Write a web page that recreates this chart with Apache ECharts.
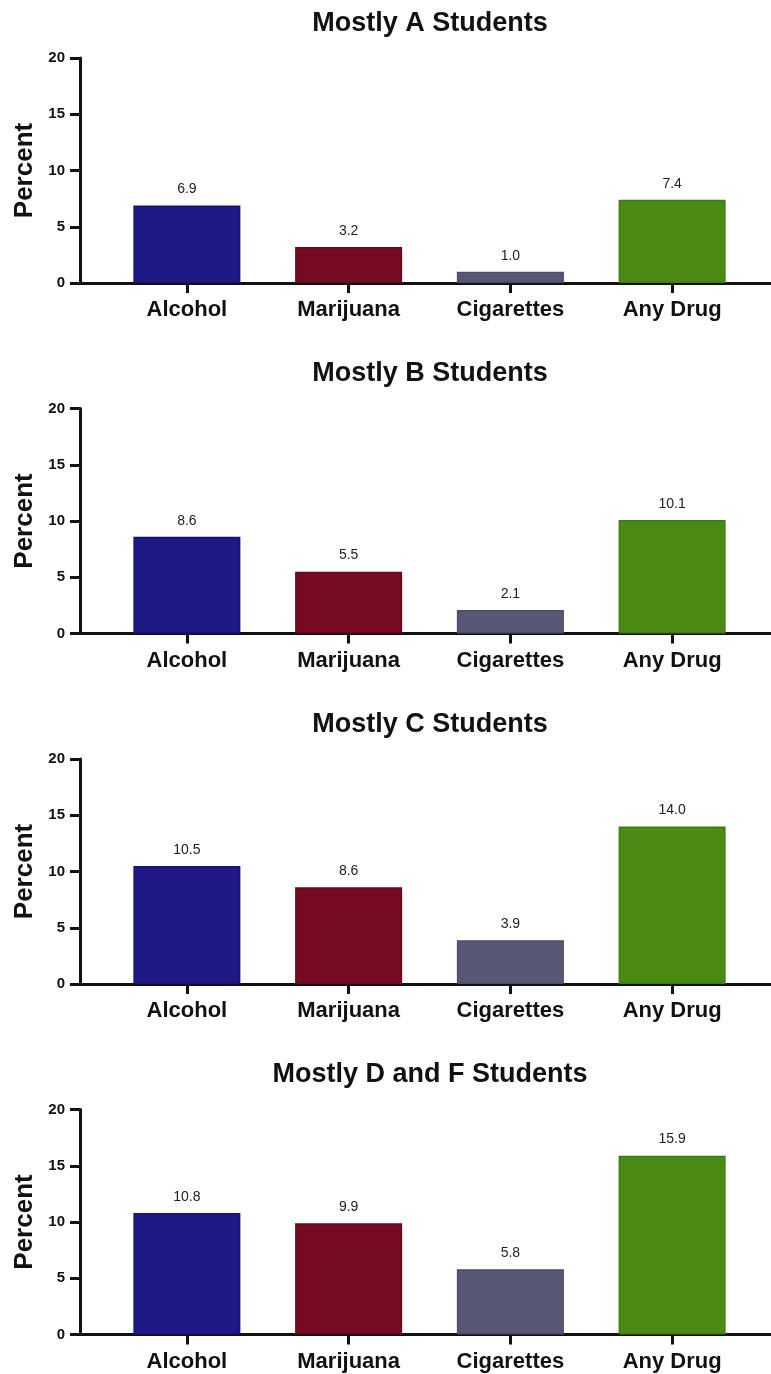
<!DOCTYPE html>
<html>
<head>
<meta charset="utf-8">
<script src="https://cdn.jsdelivr.net/npm/echarts@6/dist/echarts.min.js"></script>
<style>
html,body{margin:0;padding:0;background:#fff;}
#chart{width:771px;height:1374px;}
</style>
</head>
<body>
<div id="chart"></div>
<script>
const categories = ['Alcohol', 'Marijuana', 'Cigarettes', 'Any Drug'];
const panelTitles = ['Mostly A Students', 'Mostly B Students', 'Mostly C Students', 'Mostly D and F Students'];
const mostlyA = [6.9, 3.2, 1.0, 7.4];
const mostlyB = [8.6, 5.5, 2.1, 10.1];
const mostlyC = [10.5, 8.6, 3.9, 14.0];
const mostlyDF = [10.8, 9.9, 5.8, 15.9];
const yMin = 0, yMax = 20, yStep = 5;

const panels = [mostlyA, mostlyB, mostlyC, mostlyDF];
const barColors = ['#1e1984', '#780b24', '#585776', '#4b8a14'];
const barBorders = ['#17127a', '#66081c', '#4c4b68', '#417a10'];

const FONT = "'Liberation Sans', Arial, sans-serif";
const panelTops = [58, 408.5, 759, 1109.5];
const plotH = 225;

const option = {
  animation: false,
  backgroundColor: '#ffffff',
  title: [], grid: [], xAxis: [], yAxis: [], series: []
};

panels.forEach((vals, i) => {
  const top = panelTops[i];
  option.title.push({
    text: panelTitles[i], left: 430, top: top - 48, textAlign: 'center', padding: 0,
    textStyle: { fontFamily: FONT, fontSize: 27, fontWeight: 'bold', color: '#111' }
  });
  option.grid.push({ left: 106, right: 18, top: top, height: plotH });
  option.grid.push({ left: 80, right: 0, top: top, height: plotH });
  const g = i * 2;
  option.xAxis.push({
    type: 'category', gridIndex: g, data: categories,
    axisLine: { show: false },
    axisTick: { show: true, alignWithLabel: true, length: 10, lineStyle: { color: '#111', width: 3 } },
    axisLabel: { fontFamily: FONT, fontSize: 22, fontWeight: 'bold', color: '#111', margin: 16 }
  });
  option.xAxis.push({
    type: 'value', gridIndex: g + 1, min: 0, max: 1, position: 'bottom',
    axisLine: { show: true, onZero: false, lineStyle: { color: '#111', width: 3 } },
    axisTick: { show: false }, axisLabel: { show: false }, splitLine: { show: false }
  });
  option.yAxis.push({
    type: 'value', gridIndex: g, min: yMin, max: yMax, interval: yStep, offset: 26,
    name: 'Percent', nameLocation: 'middle', nameGap: 40, nameRotate: 90,
    nameTextStyle: { fontFamily: FONT, fontSize: 26, fontWeight: 'bold', color: '#111' },
    axisLine: { show: true, lineStyle: { color: '#111', width: 3 } },
    axisTick: { show: true, length: 10, lineStyle: { color: '#111', width: 3 } },
    axisLabel: { fontFamily: FONT, fontSize: 15, fontWeight: 'bold', color: '#111', margin: 15 },
    splitLine: { show: false }
  });
  option.yAxis.push({ type: 'value', gridIndex: g + 1, min: 0, max: 1, show: false });
  option.series.push({
    type: 'bar', xAxisIndex: g, yAxisIndex: g, barWidth: 107, z: 1,
    data: vals.map((v, k) => ({
      value: v,
      itemStyle: { color: barColors[k], borderColor: barBorders[k], borderWidth: 1.5 }
    })),
    label: {
      show: true, position: 'top', distance: 9,
      fontFamily: FONT, fontSize: 14, color: '#222',
      formatter: p => p.value.toFixed(1)
    }
  });
});

const chart = echarts.init(document.getElementById('chart'), null, { renderer: 'canvas' });
chart.setOption(option);
</script>
</body>
</html>
